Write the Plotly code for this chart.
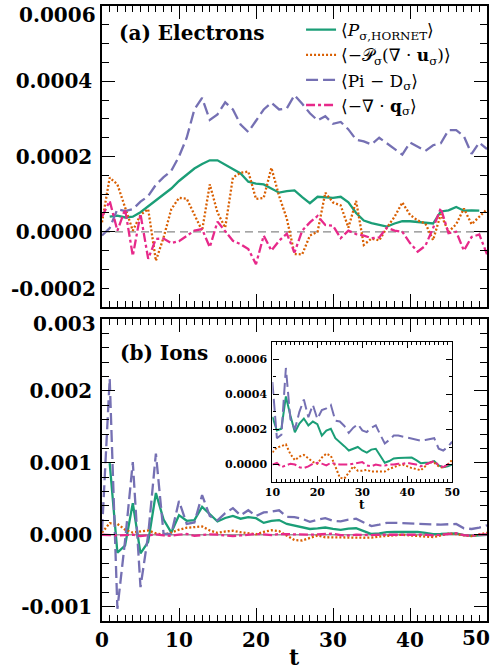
import plotly.graph_objects as go

SCALE = 1e-4  # values below are in units of 1e-4
t = list(range(0, 51))

# ---- (a) Electrons ----
e_hornet = [None, 0.40, 0.43, 0.38, 0.40, 0.52, 0.68, 0.82, 0.98, 1.15, 1.35, 1.52, 1.68, 1.80, 1.90,
            1.90, 1.78, 1.66, 1.55, 1.33, 1.28, 1.26, 1.15, 1.04, 1.08, 1.10, 0.92, 0.76, 0.93, 0.92,
            0.90, 0.93, 0.78, 0.50, 0.30, 0.23, 0.18, 0.14, 0.22, 0.28, 0.28, 0.26, 0.24, 0.22, 0.54,
            0.57, 0.66, 0.56, 0.57, 0.56, None]
e_pdu = [0.25, 1.44, 1.26, 0.64, 0.03, 0.45, 0.60, -0.77, -0.15, 0.60, 0.90, 0.88, 0.45, 0.03, 1.26,
         0.51, 0.11, 1.44, 1.57, 1.60, 0.87, 0.90, 1.70, 0.95, 0.35, -0.59, -0.60, -0.10, 0.00, 1.04,
         0.78, 0.70, 0.11, 0.82, -0.35, -0.18, -0.23, 0.11, 0.40, 0.78, 0.45, 0.30, 0.22, -0.22, 0.47,
         0.00, 0.20, 0.62, 0.20, 0.40, 0.60]
e_pid = [-0.10, 0.10, 0.60, 0.55, 0.60, 0.80, 0.95, 1.25, 1.45, 1.62, 2.00, 2.50, 3.25, 3.56, 2.97,
         3.12, 3.44, 3.25, 2.85, 2.65, 2.95, 3.25, 3.43, 3.25, 3.28, 3.63, 3.40, 3.15, 2.96, 3.07,
         2.87, 2.92, 2.72, 2.45, 2.40, 2.32, 2.50, 2.35, 2.20, 2.05, 2.37, 2.25, 2.15, 2.30, 2.35,
         2.70, 2.70, 2.54, 2.07, 2.37, 2.20]
e_divq = [0.40, 0.82, 0.03, 0.60, -0.64, 0.47, -0.72, -0.19, -0.18, -0.30, -0.25, -0.12, 0.03, 0.07, -0.41,
          0.27, 0.00, -0.24, -0.33, -0.46, -0.86, -0.10, -0.50, -0.24, -0.05, -0.55, 0.03, 0.25, 0.42, 0.18,
          0.16, -0.17, 0.03, -0.06, -0.10, -0.17, -0.15, 0.11, 0.03, 0.00, -0.30, -0.53, -0.37, 0.10, 0.63,
          -0.04, 0.00, -0.50, -0.14, -0.07, -0.60]

# ---- (b) Ions ----
i_hornet = [None, 9.95, -2.5, -1.5, 4.4, -2.6, -1.0, 5.8, 2.1, 0.3, 2.72, 1.94, 2.04, 3.88, 2.8,
            1.84, 2.33, 2.62, 2.23, 2.45, 2.3, 1.65, 1.94, 2.04, 1.5, 1.3, 1.05, 0.8, 0.88, 1.0,
            0.8, 0.68, 0.85, 0.9, 0.5, 0.1, 0.2, 0.35, 0.38, 0.4, 0.42, 0.4, 0.25, 0.08, 0.1,
            0.12, 0.2, -0.05, -0.15, -0.1, 0.0]
i_pdu = [0.3, 1.6, 1.5, 0.7, 0.3, 0.5, 0.6, 0.2, 0.0, 0.3, 0.7, 0.97, 1.05, 1.15, 0.6,
         0.25, 0.45, 0.55, 0.35, 0.15, 0.05, 0.4, 0.62, 0.5, -0.1, -0.75, -0.8, -0.45, -0.1, -0.35,
         -0.35, -0.3, -0.4, -0.4, -0.42, -0.4, -0.25, -0.15, -0.05, 0.0, -0.1, -0.2, -0.25, -0.33, -0.1,
         0.15, 0.1, -0.1, -0.19, 0.0, 0.27]
i_pid = [0.5, 21.7, -10.3, -0.8, 10.1, -7.3, 0.0, 11.3, 0.1, 0.1, 4.7, 1.5, 1.7, 5.5, 2.6,
         2.0, 3.0, 3.7, 2.7, 3.4, 2.6, 3.1, 3.2, 3.4, 2.5, 2.45, 2.2, 1.8, 2.1, 2.3,
         1.95, 1.85, 2.1, 2.23, 1.7, 1.2, 1.4, 1.65, 1.65, 1.6, 1.55, 1.5, 1.45, 1.36, 1.4,
         1.46, 1.5, 0.9, 0.8, 1.0, 1.3]
i_divq = [0.0, -0.1, -0.1, -0.05, 0.0, -0.2, -0.1, 0.05, -0.1, -0.15, 0.0, 0.1, -0.15, -0.05, 0.05,
          0.0, -0.15, -0.2, -0.1, 0.05, 0.1, 0.05, -0.05, 0.1, 0.05, 0.0, 0.0, 0.0, 0.05, 0.1,
          0.14, -0.05, -0.1, 0.0, -0.05, -0.05, 0.0, 0.0, 0.05, 0.05, 0.1, 0.05, 0.0, -0.1, 0.0,
          0.1, 0.2, -0.05, -0.14, 0.0, 0.05]

# ---- labels / ticks ----
series_names = ["⟨<i>P</i><sub>σ,HORNET</sub>⟩",
                "⟨−𝒫<sub>σ</sub>(∇ · <b>u</b><sub>σ</sub>)⟩",
                "⟨Pi − D<sub>σ</sub>⟩",
                "⟨−∇ · <b>q</b><sub>σ</sub>⟩"]
colors = ["#1b9e77", "#d95f02", "#7570b3", "#e7298a"]
dashes = ["solid", "2px,2px", "12px,5px", "9px,3px,3px,3px"]

x_ticks = [0, 10, 20, 30, 40]
x_ticktext = ["0", "10", "20", "30", "40"]
top_y_ticks = [0.0, 0.0002, 0.0004]
top_y_text = ["0.0000", "0.0002", "0.0004"]
bot_y_ticks = [-0.001, 0.0, 0.001, 0.002]
bot_y_text = ["-0.001", "0.000", "0.001", "0.002"]
ins_x_ticks = [10, 20, 30, 40, 50]
ins_y_ticks = [0.0, 0.0002, 0.0004, 0.0006]
ins_y_text = ["0.0000", "0.0002", "0.0004", "0.0006"]

FONT = "DejaVu Serif"


def sc(vals):
    return [None if v is None else v * SCALE for v in vals]


fig = go.Figure()
elec = [e_hornet, e_pdu, e_pid, e_divq]
ions = [i_hornet, i_pdu, i_pid, i_divq]
for k in range(4):
    fig.add_trace(go.Scatter(x=t, y=sc(elec[k]), mode="lines", name=series_names[k],
                             line=dict(color=colors[k], width=2.3, dash=dashes[k]),
                             xaxis="x", yaxis="y", showlegend=True))
for k in range(4):
    fig.add_trace(go.Scatter(x=t, y=sc(ions[k]), mode="lines", name=series_names[k],
                             line=dict(color=colors[k], width=2.3, dash=dashes[k]),
                             xaxis="x2", yaxis="y2", showlegend=False))
for k in range(4):
    fig.add_trace(go.Scatter(x=t[10:], y=sc(ions[k][10:]), mode="lines", name=series_names[k],
                             line=dict(color=colors[k], width=2.0, dash=dashes[k]),
                             xaxis="x3", yaxis="y3", showlegend=False))

# zero reference lines
fig.add_hline(y=0, line=dict(color="#888888", width=1.3, dash="8px,5px"), xref="x", yref="y", layer="below")
fig.add_hline(y=0, line=dict(color="#999999", width=1.3), xref="x2", yref="y2", layer="below")
fig.add_hline(y=0, line=dict(color="#999999", width=1.0), xref="x3", yref="y3", layer="below")

tickfont = dict(family=FONT, size=20, color="black", weight="bold")
common = dict(showline=True, linewidth=1.5, linecolor="black", mirror="allticks", ticks="inside",
              tickcolor="black", showgrid=False, zeroline=False)

fig.update_layout(
    width=499, height=670,
    margin=dict(l=102, r=10, t=4, b=49),
    paper_bgcolor="white", plot_bgcolor="white",
    xaxis=dict(domain=[0, 1], anchor="y", range=[0, 50], tickvals=x_ticks, showticklabels=False,
               ticklen=13, tickwidth=1.3, minor=dict(dtick=1, ticklen=6, tickcolor="black", ticks="inside"),
               **common),
    yaxis=dict(domain=[0.5105, 1.0], anchor="x", range=[-0.0002, 0.0006], tickvals=top_y_ticks,
               ticktext=top_y_text, tickfont=tickfont, ticklen=13, tickwidth=1.3, ticklabelstandoff=4,
               minor=dict(dtick=0.00005, tick0=0, ticklen=7, tickcolor="black", ticks="inside"), **common),
    xaxis2=dict(domain=[0, 1], anchor="y2", range=[0, 50], tickvals=x_ticks, ticktext=x_ticktext,
                tickfont=tickfont, ticklen=13, tickwidth=1.3, ticklabelstandoff=0,
                minor=dict(dtick=1, ticklen=6, tickcolor="black", ticks="inside"), **common),
    yaxis2=dict(domain=[0.0, 0.491], anchor="x2", range=[-0.0012, 0.003], tickvals=bot_y_ticks,
                ticktext=bot_y_text, tickfont=tickfont, ticklen=13, tickwidth=1.3, ticklabelstandoff=4,
                minor=dict(dtick=0.0002, tick0=0, ticklen=7, tickcolor="black", ticks="inside"), **common),
    xaxis3=dict(domain=[0.4426, 0.9096], anchor="y3", range=[10, 50], tickvals=ins_x_ticks,
                tickfont=dict(family=FONT, size=11, color="black", weight="bold"), ticklen=6, tickwidth=1,
                ticklabelstandoff=0,
                minor=dict(dtick=1, ticklen=3, tickcolor="black", ticks="inside"),
                showline=True, linewidth=1.2, linecolor="black", mirror="allticks", ticks="inside",
                tickcolor="black", showgrid=False, zeroline=False),
    yaxis3=dict(domain=[0.2258, 0.4543], anchor="x3", range=[-0.0001, 0.0007], tickvals=ins_y_ticks,
                ticktext=ins_y_text, tickfont=dict(family=FONT, size=11, color="black", weight="bold"),
                ticklen=6, tickwidth=1, ticklabelstandoff=2,
                minor=dict(dtick=0.0001, tick0=0, ticklen=3, tickcolor="black", ticks="inside"),
                showline=True, linewidth=1.2, linecolor="black", mirror="allticks", ticks="inside",
                tickcolor="black", showgrid=False, zeroline=False),
    legend=dict(x=0.517, y=0.99, xanchor="left", yanchor="top", bgcolor="rgba(0,0,0,0)",
                font=dict(family=FONT, size=17, color="black"), itemwidth=30, tracegroupgap=0),
    showlegend=True,
)

ann_font = dict(family=FONT, size=20, color="black", weight="bold")
# panel titles
fig.add_annotation(text="(a) Electrons", xref="paper", yref="paper", x=0.038, y=0.956,
                   xanchor="left", yanchor="middle", showarrow=False, font=ann_font)
fig.add_annotation(text="(b) Ions", xref="paper", yref="paper", x=0.041, y=0.436,
                   xanchor="left", yanchor="middle", showarrow=False, font=ann_font)
# end tick labels offset from the frame corners
fig.add_annotation(text="0.0006", xref="paper", yref="y", x=0, y=0.0006, xanchor="right", yanchor="middle",
                   xshift=-4, yshift=-9, showarrow=False, font=ann_font)
fig.add_annotation(text="-0.0002", xref="paper", yref="y", x=0, y=-0.0002, xanchor="right", yanchor="middle",
                   xshift=-4, yshift=18, showarrow=False, font=ann_font)
fig.add_annotation(text="0.003", xref="paper", yref="y2", x=0, y=0.003, xanchor="right", yanchor="middle",
                   xshift=-4, yshift=-5, showarrow=False, font=ann_font)
fig.add_annotation(text="50", xref="x2", yref="paper", x=50, y=0, xanchor="center", yanchor="middle",
                   xshift=-11, yshift=-17, showarrow=False, font=ann_font)
# axis titles
fig.add_annotation(text="t", xref="paper", yref="paper", x=0.501, y=0, xanchor="center", yanchor="middle",
                   yshift=-36, showarrow=False, font=dict(family=FONT, size=22, color="black", weight="bold"))
fig.add_annotation(text="t", xref="x3", yref="paper", x=30, y=0.2258, xanchor="center", yanchor="middle",
                   yshift=-23, showarrow=False, font=dict(family=FONT, size=12, color="black", weight="bold"))

fig.write_html("out.html", config={"displayModeBar": False},
               post_script="document.body.style.margin='0';document.body.style.padding='0';")
